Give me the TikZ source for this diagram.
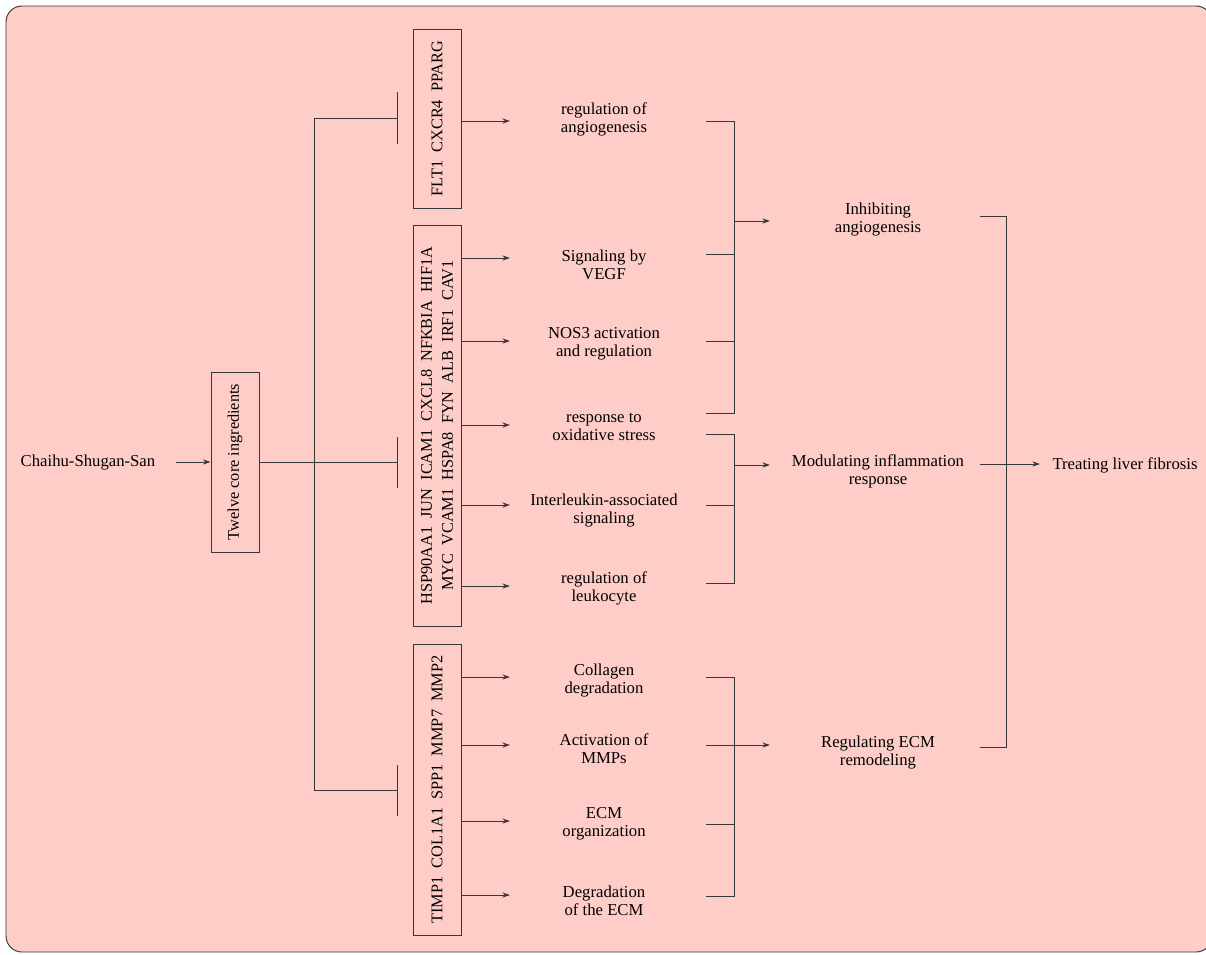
\documentclass[tikz,border=0pt]{standalone}
\usepackage{fontspec}
\setmainfont{Liberation Serif}
\usetikzlibrary{arrows.meta}
\definecolor{bg}{RGB}{255,205,200}
\definecolor{ln}{RGB}{55,55,55}
\begin{document}
\begin{tikzpicture}[x=1pt,y=-1pt,
  line/.style={draw=ln, line width=0.95pt},
  arr/.style={line, -{Stealth[length=7.5pt,width=5pt]}},
  lbl/.style={font=\fontsize{16.7}{18}\selectfont, align=center, inner sep=0pt, text=black},
  gbox/.style={draw=ln, line width=0.95pt, rotate=90, font=\fontsize{16.3}{21}\selectfont, align=center, inner sep=0pt},
]
\useasboundingbox (0,0) rectangle (1206,954);
\fill[bg, draw=ln, line width=0.95pt, rounded corners=16pt] (6,6) rectangle (1212,952);

% left part
\node[lbl] (csg) at (88,462) {Chaihu-Shugan-San};
\node[gbox, minimum width=180pt, minimum height=48pt] (tci) at (235,462) {Twelve core ingredients};
\coordinate (a0) at (176,462);
\draw[arr] (a0) -- (tci.north);

% gene boxes
\node[gbox, minimum width=179pt, minimum height=48pt] (g1) at (437,118.5) {FLT1\ \ CXCR4\ \ PPARG};
\node[gbox, minimum width=401pt, minimum height=48pt] (g2) at (437,425.5) {HSP90AA1\ \ JUN\ \ ICAM1\ \ CXCL8\ \ NFKBIA\ \ HIF1A\\MYC\ \ VCAM1\ \ HSPA8\ \ FYN\ \ ALB\ \ IRF1\ \ CAV1};
\node[gbox, minimum width=291pt, minimum height=48pt] (g3) at (437,789.5) {TIMP1\ \ COL1A1\ \ SPP1\ \ MMP7\ \ MMP2};

% inhibition connectors
\coordinate (t1) at (397,118);
\coordinate (t2) at (397,462);
\coordinate (t3) at (397,790);
\coordinate (v1) at (314,118);
\coordinate (v3) at (314,790);
\draw[line] (tci.south) -- (t2);
\draw[line] (t1) -- (v1) -- (v3) -- (t3);
\draw[line] (397,92) -- (397,144);
\draw[line] (397,437) -- (397,488);
\draw[line] (397,765) -- (397,816);

% processes
\node[lbl] (p1) at (604,119) {regulation of\\angiogenesis};
\node[lbl] (p2) at (604,265) {Signaling by\\VEGF};
\node[lbl] (p3) at (604,344) {NOS3 activation\\and regulation};
\node[lbl] (p4) at (604,427) {response to\\oxidative stress};
\node[lbl] (p5) at (604,510) {Interleukin-associated\\signaling};
\node[lbl] (p6) at (604,588) {regulation of\\leukocyte};
\node[lbl] (p7) at (604,680) {Collagen\\degradation};
\node[lbl] (p8) at (604,749) {Activation of\\MMPs};
\node[lbl] (p9) at (604,824) {ECM\\organization};
\node[lbl] (p10) at (604,901) {Degradation\\of the ECM};

\draw[arr] (461,121) -- (510,121);
\draw[arr] (461,258) -- (510,258);
\draw[arr] (461,341) -- (510,341);
\draw[arr] (461,425) -- (510,425);
\draw[arr] (461,505) -- (510,505);
\draw[arr] (461,586) -- (510,586);
\draw[arr] (461,677) -- (510,677);
\draw[arr] (461,745) -- (510,745);
\draw[arr] (461,821) -- (510,821);
\draw[arr] (461,895) -- (510,895);

% brackets
\draw[line] (706,121) -- (734,121) -- (734,413) -- (706,413);
\draw[line] (706,254) -- (734,254);
\draw[line] (706,341) -- (734,341);
\draw[arr] (734,221) -- (770,221);

\draw[line] (706,434) -- (734,434) -- (734,583) -- (706,583);
\draw[line] (706,505) -- (734,505);
\draw[arr] (734,465) -- (770,465);

\draw[line] (706,677) -- (734,677) -- (734,896) -- (706,896);
\draw[line] (706,824) -- (734,824);
\draw[arr] (706,745) -- (770,745);

% mechanisms
\node[lbl] (m1) at (878,220) {Inhibiting\\angiogenesis};
\node[lbl] (m2) at (878,471) {Modulating inflammation\\response};
\node[lbl] (m3) at (878,752) {Regulating ECM\\remodeling};

\draw[line] (980,216) -- (1006,216) -- (1006,747) -- (980,747);
\draw[arr] (980,464) -- (1040,464);
\node[lbl] (out) at (1125,465) {Treating liver fibrosis};
\end{tikzpicture}
\end{document}
